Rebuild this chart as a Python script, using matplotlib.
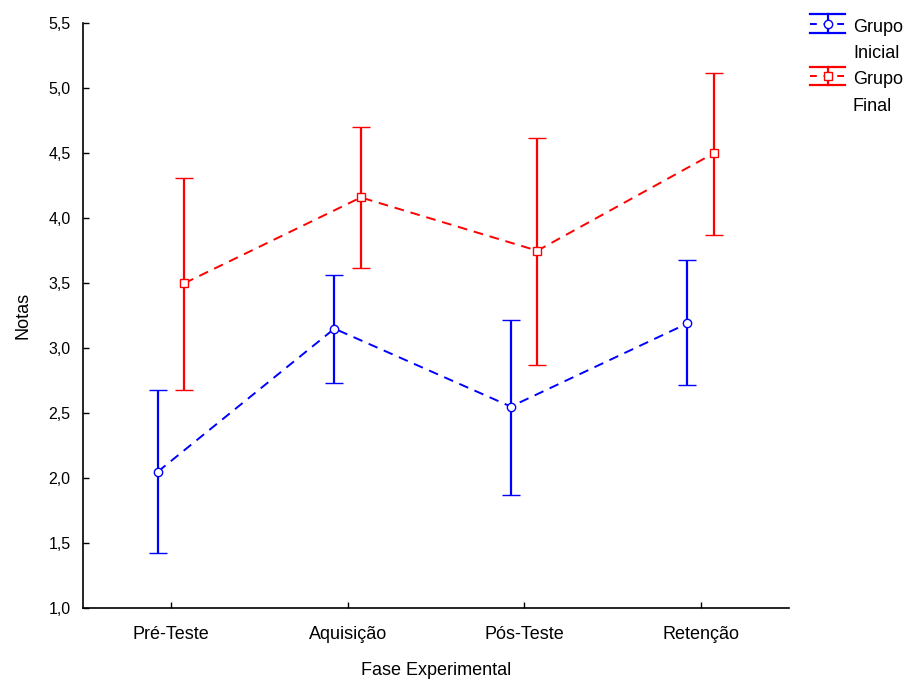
import matplotlib.pyplot as plt
import numpy as np
from matplotlib.lines import Line2D
from matplotlib.legend_handler import HandlerBase

plt.rcParams['font.family'] = ['Liberation Sans', 'DejaVu Sans']

fases = ['Pré-Teste', 'Aquisição', 'Pós-Teste', 'Retenção']

inicial_media = [2.05, 3.15, 2.55, 3.19]
inicial_sup = [2.68, 3.56, 3.22, 3.68]
inicial_inf = [1.42, 2.73, 1.87, 2.72]

final_media = [3.50, 4.16, 3.75, 4.50]
final_sup = [4.31, 4.70, 4.62, 5.12]
final_inf = [2.68, 3.62, 2.87, 3.87]

yticks = [1.0, 1.5, 2.0, 2.5, 3.0, 3.5, 4.0, 4.5, 5.0, 5.5]


class HandlerBarra(HandlerBase):
    # barra de erro com tampas largas, alinhada com a 1a linha do texto
    def create_artists(self, legend, orig, xd, yd, w, h, fontsize, trans):
        cor = orig.get_color()
        mk = orig.get_marker()
        cy = h / 2 - yd + 12.5
        meio = w / 2 - xd
        alt = 6.8
        arts = [
            Line2D([-xd, w - xd], [cy + alt, cy + alt], color=cor, lw=1.6),
            Line2D([-xd, w - xd], [cy - alt, cy - alt], color=cor, lw=1.6),
            Line2D([meio, meio], [cy - alt, cy + alt], color=cor, lw=1.6),
            Line2D([-xd, w - xd], [cy, cy], color=cor, lw=1.4, ls=(0, (3.5, 3.5))),
            Line2D([meio], [cy], color=cor, marker=mk, markersize=6,
                   markerfacecolor='white', markeredgecolor=cor, markeredgewidth=1.0, ls='none'),
        ]
        for a in arts:
            a.set_transform(trans)
        return arts


fig = plt.figure(figsize=(9.13, 6.79), dpi=100)
ax = fig.add_axes([0.0909, 0.1046, 0.773, 0.861])

x = np.arange(len(fases))
desl = 0.075

def serie(media, sup, inf, pos, cor, marcador):
    media = np.array(media)
    err = [media - np.array(inf), np.array(sup) - media]
    ax.errorbar(pos, media, yerr=err, color=cor, ls=(0, (5, 3.5)), lw=1.4,
                elinewidth=1.6, capsize=6.5, capthick=1.6,
                marker=marcador, markersize=6, markerfacecolor='white',
                markeredgecolor=cor, markeredgewidth=1.0)

serie(inicial_media, inicial_sup, inicial_inf, x - desl, '#0000ff', 'o')
serie(final_media, final_sup, final_inf, x + desl, '#ff0000', 's')

ax.set_xlim(-0.5, 3.5)
ax.set_ylim(1.0, 5.5)
ax.set_xticks(x)
ax.set_xticklabels(fases, fontsize=13)
ax.set_yticks(yticks)
ax.set_yticklabels([('%.1f' % v).replace('.', ',') for v in yticks], fontsize=11.5)
ax.tick_params(direction='in', length=4, width=1)
ax.tick_params(axis='y', pad=9)
ax.tick_params(axis='x', pad=13)
ax.spines['top'].set_visible(False)
ax.spines['right'].set_visible(False)
ax.spines['left'].set_linewidth(1.2)
ax.spines['bottom'].set_linewidth(1.2)

ax.set_ylabel('Notas', fontsize=13, labelpad=12)
ax.set_xlabel('Fase Experimental', fontsize=13, labelpad=14)

h_ini = Line2D([], [], color='#0000ff', marker='o')
h_fin = Line2D([], [], color='#ff0000', marker='s')
leg = fig.legend([h_ini, h_fin], ['Grupo\nInicial', 'Grupo\nFinal'],
                 handler_map={Line2D: HandlerBarra()},
                 loc='upper left', bbox_to_anchor=(810 / 913, 1 - 19 / 679),
                 frameon=False, borderpad=0, borderaxespad=0,
                 fontsize=13, handlelength=1.94, handleheight=1.0,
                 handletextpad=0.44, labelspacing=0.5)
for t in leg.get_texts():
    t.set_linespacing(1.72)

fig.savefig('out.png', dpi=100)
